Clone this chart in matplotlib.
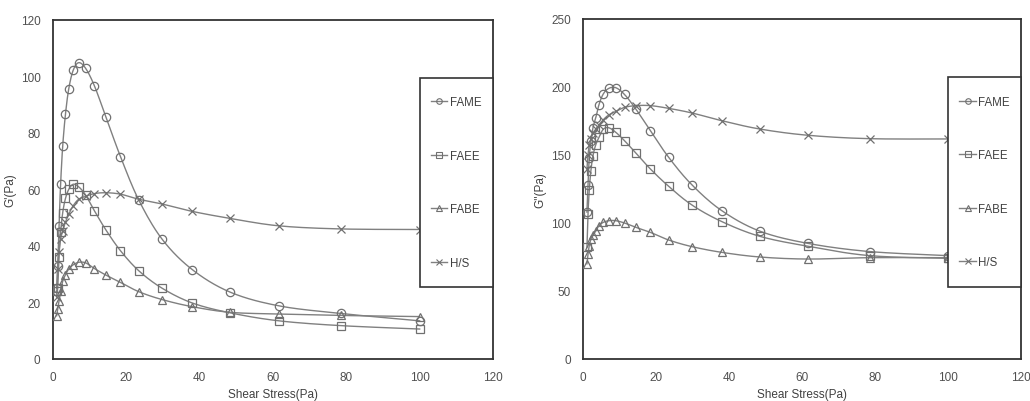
import numpy as np
import matplotlib
matplotlib.use("Agg")
import matplotlib.pyplot as plt
from matplotlib.patches import Rectangle

# ---- data ----
shear_stress = [1.0, 1.28, 1.63, 2.08, 2.65, 3.4, 4.3, 5.5, 7.0, 8.9,
                11.3, 14.4, 18.4, 23.4, 29.8, 38.0, 48.4, 61.6, 78.5, 100.0]

g1_fame = [25, 33, 47, 62, 75.4, 86.6, 95.6, 102.1, 104.8, 102.8,
           96.6, 85.7, 71.6, 56.2, 42.3, 31.6, 23.6, 18.8, 16.1, 13.5]
g1_faee = [24, 25, 36, 44.8, 51.8, 56.8, 60, 61.8, 60.9, 58,
           52.4, 45.7, 38.3, 31.2, 25, 19.8, 16.3, 13.5, 11.8, 10.6]
g1_fabe = [15.3, 17.7, 20.4, 24, 27.5, 29.8, 31.8, 33.3, 34.2, 34,
           32, 29.7, 27.1, 23.8, 21, 18.5, 16.5, 15.9, 15.4, 15.0]
g1_hs = [22, 31.8, 37.8, 42.4, 45.3, 48.4, 51.2, 54.2, 56.5, 57.5,
         58.5, 58.8, 58.3, 56.5, 54.8, 52.2, 49.7, 47.1, 46.0, 45.8]

g2_fame = [108, 128, 148, 160, 170, 177, 187, 195, 199, 199.5,
           194.5, 183.8, 167.9, 148.3, 128, 109, 94, 85, 79, 76]
g2_faee = [82, 106.6, 124, 138.5, 149.5, 157.4, 163, 169, 170, 166.7,
           160.5, 151.5, 139.7, 127, 113.2, 101, 90.2, 82.9, 76, 74]
g2_fabe = [70, 77, 83.3, 88, 91, 94, 98, 100.5, 101.7, 101.7,
           100, 96.8, 93.1, 87.5, 82.6, 78.4, 75, 73.5, 74.5, 74.5]
g2_hs = [140, 150, 157, 162, 166, 169, 172, 176, 179.5, 182,
         185, 186.3, 186.3, 184.3, 180.9, 175.2, 169.1, 164.5, 162, 161.8]

series_names = ["FAME", "FAEE", "FABE", "H/S"]
markers = ["o", "s", "^", "x"]
x_ticks = [0, 20, 40, 60, 80, 100, 120]
y1_ticks = [0, 20, 40, 60, 80, 100, 120]
y2_ticks = [0, 50, 100, 150, 200, 250]

plt.rcParams['font.family'] = ['Liberation Sans', 'DejaVu Sans']

LINE_C = "#808080"
MARK_C = "#707070"
TEXT_C = "#505050"


def smooth(x, y, xr, yr, n=16):
    """Excel-like smoothed line (cubic Bezier through points, Catmull-Rom tangents)."""
    x = np.asarray(x, float); y = np.asarray(y, float)
    sx = (x - xr[0]) / (xr[1] - xr[0]); sy = (y - yr[0]) / (yr[1] - yr[0])
    P = np.column_stack([sx, sy])
    out = []
    m = len(P)
    for i in range(m - 1):
        p0 = P[i - 1] if i > 0 else P[i]
        p1 = P[i]; p2 = P[i + 1]
        p3 = P[i + 2] if i + 2 < m else P[i + 1]
        b1 = p1 + (p2 - p0) / 6.0
        b2 = p2 - (p3 - p1) / 6.0
        t = np.linspace(0, 1, n)[:, None]
        seg = ((1 - t) ** 3) * p1 + 3 * ((1 - t) ** 2) * t * b1 + 3 * (1 - t) * t ** 2 * b2 + t ** 3 * p2
        out.append(seg if i == 0 else seg[1:])
    S = np.vstack(out)
    return S[:, 0] * (xr[1] - xr[0]) + xr[0], S[:, 1] * (yr[1] - yr[0]) + yr[0]


fig = plt.figure(figsize=(10.30, 4.02), dpi=100)
axL = fig.add_axes([53 / 1030, 42 / 402, 440 / 1030, 339.3 / 402])
axR = fig.add_axes([583.3 / 1030, 42 / 402, 437.7 / 1030, 340 / 402])

configs = [
    (axL, [g1_fame, g1_faee, g1_fabe, g1_hs], (0, 120), y1_ticks, "G'(Pa)"),
    (axR, [g2_fame, g2_faee, g2_fabe, g2_hs], (0, 250), y2_ticks, "G''(Pa)"),
]

for ax, data, ylim, yt, ylab in configs:
    xr = (0, 120)
    handles = []
    for vals, name, mk in zip(data, series_names, markers):
        sxv, syv = smooth(shear_stress, vals, xr, ylim)
        ax.plot(sxv, syv, color=LINE_C, lw=1.0, zorder=2)
        ax.plot(shear_stress, vals, linestyle='none', marker=mk,
                markersize=6 if mk != 's' else 5.6,
                markerfacecolor='none', markeredgecolor=MARK_C,
                markeredgewidth=0.9, zorder=3)
        h, = ax.plot([], [], color=LINE_C, lw=1.0, marker=mk, markersize=4,
                     markerfacecolor='none', markeredgecolor=MARK_C,
                     markeredgewidth=0.8, label=name)
        handles.append(h)
    ax.set_xlim(*xr)
    ax.set_ylim(*ylim)
    ax.set_xticks(x_ticks)
    ax.set_yticks(yt)
    ax.tick_params(length=0, labelsize=8.5, labelcolor=TEXT_C, pad=9)
    for s in ax.spines.values():
        s.set_color("#333333")
        s.set_linewidth(1.3)
    ax.set_xlabel("Shear Stress(Pa)", fontsize=8.5, color="#404040", labelpad=3)
    ax.set_ylabel(ylab, fontsize=8.5, color="#404040", labelpad=3)

    # legend box
    x0 = 100 / 120
    ax.add_patch(Rectangle((x0, 0.212), 1 - x0, 0.616, transform=ax.transAxes,
                           facecolor='white', edgecolor='#333333', lw=1.2,
                           zorder=5, clip_on=False))
    leg = ax.legend(handles=handles, loc='center', bbox_to_anchor=(x0 + (1 - x0) / 2, 0.52),
                    bbox_transform=ax.transAxes, frameon=False, fontsize=8.3,
                    labelspacing=3.6, handlelength=1.4, handletextpad=0.2,
                    borderaxespad=0)
    for t in leg.get_texts():
        t.set_color("#404040")
    leg.set_zorder(6)

fig.savefig("out.png", dpi=100)
